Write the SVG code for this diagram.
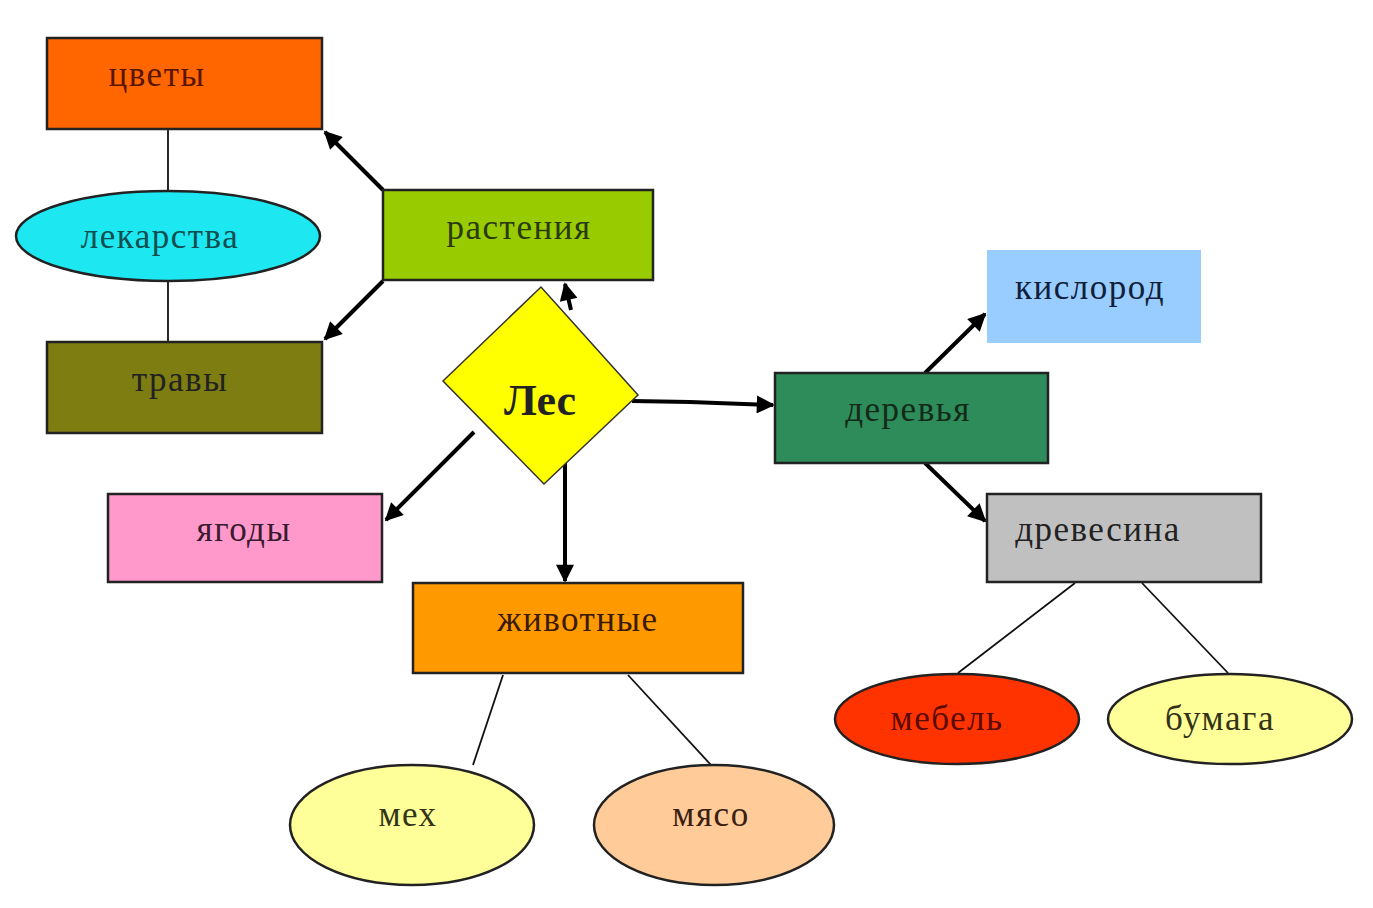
<svg xmlns="http://www.w3.org/2000/svg" width="1373" height="908" viewBox="0 0 1373 908">
<defs>
<marker id="ah" viewBox="0 0 10 10" refX="9" refY="5" markerWidth="5" markerHeight="4.5" orient="auto" markerUnits="strokeWidth">
<path d="M0,0 L10,5 L0,10 z" fill="#000"/>
</marker>
<style>
.box{stroke:#222;stroke-width:2.5}
.ell{stroke:#222;stroke-width:2.5}
.t{font-family:"Liberation Serif","DejaVu Serif",serif;font-size:35px;letter-spacing:1.5px;text-anchor:middle}
.big{font-size:44px;font-weight:bold;letter-spacing:0}
.arr{stroke:#000;stroke-width:4;fill:none;marker-end:url(#ah)}
.ln{stroke:#111;stroke-width:1.8;fill:none}
</style>
</defs>
<rect width="1373" height="908" fill="#fff"/>
<g id="connectors">
<line class="ln" x1="168" y1="129" x2="168" y2="191"/>
<line class="ln" x1="168" y1="281" x2="168" y2="342"/>
<line class="arr" x1="383" y1="190" x2="325" y2="132"/>
<line class="arr" x1="383" y1="281" x2="325" y2="339"/>
<line class="arr" x1="571" y1="310" x2="565" y2="284"/>
<polyline class="arr" points="632,401 690,402 773,405"/>
<line class="arr" x1="925" y1="373" x2="985" y2="314"/>
<line class="arr" x1="925" y1="463" x2="985" y2="521"/>
<line class="arr" x1="474" y1="432" x2="386" y2="520"/>
<line class="arr" x1="565" y1="440" x2="565" y2="581"/>
<line class="ln" x1="503" y1="675" x2="473" y2="765"/>
<line class="ln" x1="628" y1="675" x2="711" y2="765"/>
<line class="ln" x1="1075" y1="583" x2="958" y2="673"/>
<line class="ln" x1="1142" y1="583" x2="1228" y2="673"/>
</g>
<g id="cvety"><rect class="box" x="47" y="38" width="275" height="91" fill="#FF6600"/><text class="t" x="157" y="86" fill="#5a1500">цветы</text></g>
<g id="lekarstva"><ellipse class="ell" cx="168" cy="236" rx="152" ry="45" fill="#1DE8F2"/><text class="t" x="160" y="248" fill="#0f4f50">лекарства</text></g>
<g id="travy"><rect class="box" x="47" y="342" width="275" height="91" fill="#7D7D12"/><text class="t" x="180" y="391" fill="#222">травы</text></g>
<g id="rasteniya"><rect class="box" x="383" y="190" width="270" height="90" fill="#99CC00"/><text class="t" x="519" y="239" fill="#2a3a10">растения</text></g>
<g id="les"><polygon points="443,381 541,287 638,395 544,484" fill="#FFFF00" stroke="#333" stroke-width="1.5"/><text class="t big" x="540" y="415" fill="#222">Лес</text></g>
<g id="derevya"><rect class="box" x="775" y="373" width="273" height="90" fill="#2E8B5A"/><text class="t" x="908" y="421" fill="#132a18">деревья</text></g>
<g id="kislorod"><rect x="987" y="250" width="214" height="93" fill="#99CCFF"/><text class="t" x="1090" y="299" fill="#10203a">кислород</text></g>
<g id="drevesina"><rect class="box" x="987" y="494" width="274" height="88" fill="#C0C0C0"/><text class="t" x="1098" y="541" fill="#222">древесина</text></g>
<g id="mebel"><ellipse class="ell" cx="957" cy="719" rx="122" ry="45" fill="#FF3300"/><text class="t" x="947" y="730" fill="#5a0a00">мебель</text></g>
<g id="bumaga"><ellipse class="ell" cx="1230" cy="719" rx="122" ry="45" fill="#FFFF99"/><text class="t" x="1220" y="730" fill="#333318">бумага</text></g>
<g id="yagody"><rect class="box" x="108" y="494" width="274" height="88" fill="#FF99CC"/><text class="t" x="244" y="541" fill="#3a1a30">ягоды</text></g>
<g id="zhivotnye"><rect class="box" x="413" y="583" width="330" height="90" fill="#FF9900"/><text class="t" x="578" y="631" fill="#3a1a00">животные</text></g>
<g id="meh"><ellipse class="ell" cx="412" cy="825" rx="122" ry="60" fill="#FFFF99"/><text class="t" x="408" y="826" fill="#333318">мех</text></g>
<g id="myaso"><ellipse class="ell" cx="714" cy="825" rx="120" ry="60" fill="#FFCC99"/><text class="t" x="711" y="826" fill="#3a2010">мясо</text></g>
</svg>
